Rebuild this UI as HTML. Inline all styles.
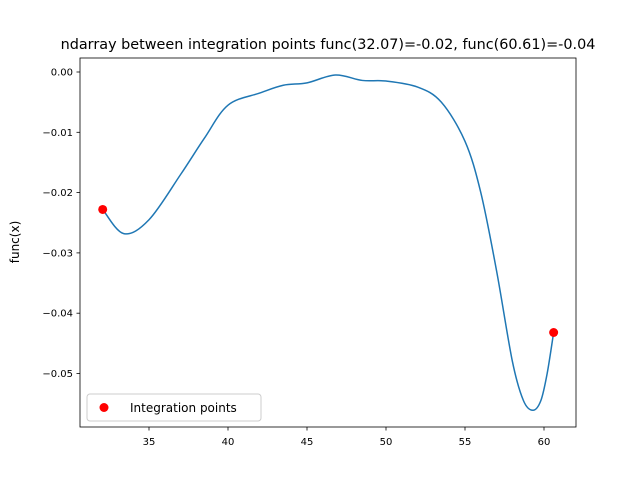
<!DOCTYPE html>
<html><head><meta charset="utf-8"><style>
body{margin:0;background:#fff;}
svg text{font-family:"DejaVu Sans","Liberation Sans",sans-serif;}
</style></head><body>
<svg id="chart" width="640" height="480" xmlns="http://www.w3.org/2000/svg">
<rect width="640" height="480" fill="#fff"/>
<text x="328" y="49" font-size="14.4" text-anchor="middle">ndarray between integration points func(32.07)=-0.02, func(60.61)=-0.04</text>
<g id="plot"></g>
<rect x="80" y="58" width="496" height="369" fill="none" stroke="#000" stroke-width="0.8"/>
<text transform="translate(19,242) rotate(-90)" font-size="12" text-anchor="middle">func(x)</text>
<g>
<rect x="87" y="394" width="174" height="27" rx="3" fill="#fff" stroke="#ccc" stroke-width="1"/>
<circle cx="104" cy="407.5" r="4.5" fill="red"/>
<text x="130" y="412" font-size="12">Integration points</text>
</g>
</svg>
<script>
const xs=[32.07,33.4,35,37,38.5,40,42,43.5,45,46.8,48.5,50,52,53.5,55,56,57,58,58.7,59.3,59.8,60.2,60.61];
const ys=[-0.0228,-0.0268,-0.0245,-0.017,-0.011,-0.0055,-0.0035,-0.0022,-0.0018,-0.0005,-0.0014,-0.0015,-0.0025,-0.005,-0.0115,-0.02,-0.033,-0.048,-0.0545,-0.0561,-0.0545,-0.05,-0.0432];
const ptX=[32.07,60.61];
const ptY=[-0.0228,-0.0432];
const xTicks=[35,40,45,50,55,60];
const yTicks=[0,-0.01,-0.02,-0.03,-0.04,-0.05];
const yLabels=["0.00","−0.01","−0.02","−0.03","−0.04","−0.05"];
const sx=v=>149+(v-35)*15.8;
const sy=v=>72-v*6030;
const g=document.getElementById('plot');
const NS="http://www.w3.org/2000/svg";
function mk(t,a){const e=document.createElementNS(NS,t);for(const k in a)e.setAttribute(k,a[k]);g.appendChild(e);return e;}
xTicks.forEach(t=>{
const l=mk('line',{x1:sx(t),x2:sx(t),y1:427,y2:430.5,stroke:'#000','stroke-width':0.8});


const tx=mk('text',{x:sx(t),y:445,'font-size':10,'text-anchor':'middle'});tx.textContent=t;


});
yTicks.forEach((t,i)=>{
const l=mk('line',{x1:76.5,x2:80,y1:sy(t),y2:sy(t),stroke:'#000','stroke-width':0.8});


const tx=mk('text',{x:73,y:sy(t)+3.5,'font-size':10,'text-anchor':'end'});tx.textContent=yLabels[i];


});
const P=xs.map((x,i)=>[sx(x),sy(ys[i])]);
let d=`M${P[0][0]},${P[0][1]}`;
for(let i=0;i<P.length-1;i++){
const p0=P[Math.max(i-1,0)],p1=P[i],p2=P[i+1],p3=P[Math.min(i+2,P.length-1)];
d+=` C${p1[0]+(p2[0]-p0[0])/6},${p1[1]+(p2[1]-p0[1])/6} ${p2[0]-(p3[0]-p1[0])/6},${p2[1]-(p3[1]-p1[1])/6} ${p2[0]},${p2[1]}`;
}
const line=mk('path',{d:d,fill:'none',stroke:'#1f77b4','stroke-width':1.5});


ptX.forEach((x,i)=>{
const c=mk('circle',{cx:sx(x),cy:sy(ptY[i]),r:4.5,fill:'red'});


});
</script>
</body></html>
